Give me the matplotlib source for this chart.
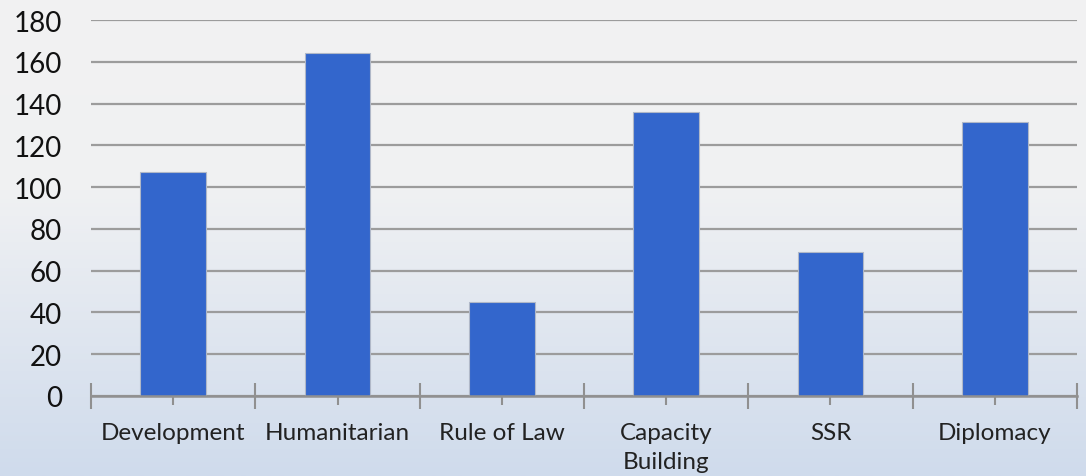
import matplotlib
matplotlib.use("Agg")
import matplotlib.pyplot as plt
import numpy as np
from matplotlib.colors import LinearSegmentedColormap

categories = ["Development", "Humanitarian", "Rule of Law", "Capacity\nBuilding", "SSR", "Diplomacy"]
values = [107, 164, 45, 136, 69, 131]
yticks = [0, 20, 40, 60, 80, 100, 120, 140, 160, 180]

plt.rcParams['font.family'] = ['Lato', 'DejaVu Sans']

fig = plt.figure(figsize=(10.86, 4.77), dpi=100)

# background gradient
bg = fig.add_axes([0, 0, 1, 1], zorder=-10)
cmap = LinearSegmentedColormap.from_list("bg", [(0, "#F2F2F2"), (0.4, "#F0F1F3"), (1.0, "#CFDBEC")])
grad = np.linspace(0, 1, 256).reshape(-1, 1)
bg.imshow(grad, aspect="auto", cmap=cmap, extent=[0, 1, 0, 1], origin="upper")
bg.axis("off")

ax = fig.add_axes([91/1086, 1 - 397/477, (1077 - 91)/1086, (397 - 21)/477])
ax.patch.set_alpha(0)
x = np.arange(len(categories))
ax.bar(x, values, width=0.4, color="#3366CC", edgecolor="#B0B8C8", linewidth=0.8, zorder=3)

ax.set_xlim(-0.5, len(categories) - 0.5)
ax.set_ylim(0, 180)
ax.set_yticks(yticks)
ax.set_yticklabels([str(v) for v in yticks], fontsize=20, color="#111111")
ax.yaxis.grid(True, color="#9C9C9C", linewidth=1.6, zorder=0)
ax.tick_params(axis="y", length=0, pad=21)

# x axis: major ticks at boundaries, minor at centers with labels
ax.set_xticks(np.arange(-0.5, len(categories)), minor=False)
ax.set_xticklabels([])
ax.set_xticks(x, minor=True)
ax.set_xticklabels(categories, minor=True, fontsize=17.5, color="#222222", linespacing=1.5, va="top")
ax.tick_params(axis="x", which="major", direction="inout", length=19, width=1.5, color="#909090")
ax.tick_params(axis="x", which="minor", direction="inout", length=13, width=1.5, color="#909090", pad=12)

for s in ["top", "right", "left"]:
    ax.spines[s].set_visible(False)
ax.spines["bottom"].set_color("#909090")
ax.spines["bottom"].set_linewidth(1.8)
ax.spines["bottom"].set_zorder(4)

fig.savefig("out.png", dpi=100)
